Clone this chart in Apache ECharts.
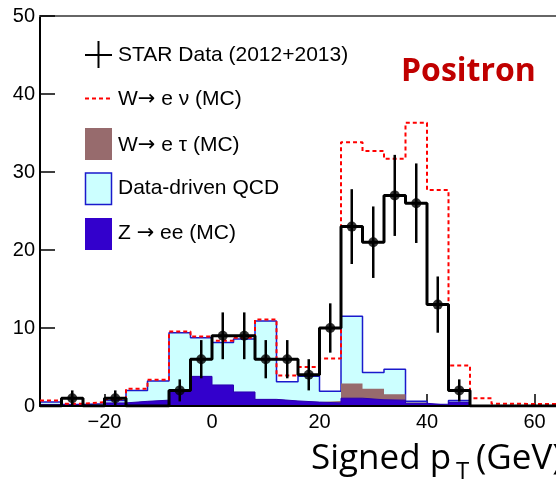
<!DOCTYPE html>
<html>
<head>
<meta charset="utf-8">
<script src="https://cdn.jsdelivr.net/npm/echarts@6/dist/echarts.min.js"></script>
<style>
  html, body { margin: 0; padding: 0; background: #fff; }
  #chart { width: 556px; height: 482px; }
</style>
</head>
<body>
<div id="chart"></div>
<script>
// Signed pT distribution of positron candidates, 4 GeV bins from -32 to 64 GeV
const binLow = [-32, -28, -24, -20, -16, -12, -8, -4, 0, 4, 8, 12, 16, 20, 24, 28, 32, 36, 40, 44, 48, 52, 56, 60];
const binWidth = 4;

// STAR data counts per bin
const dataCounts = [0, 1, 0, 1, 0, 0, 2, 6, 9, 9, 6, 6, 4, 10, 23, 21, 27, 26, 13, 2, 0, 0, 0, 0];

// Stacked components (bottom to top)
const zee  = [0.2, 0.15, 0.1, 0.4, 0.6, 0.75, 2.0, 3.8, 2.7, 1.8, 0.85, 0.65, 0.5, 0.4, 1.0, 0.8, 0.75, 0.35, 0.1, 0.5, 0, 0, 0, 0];
const wtau = [0, 0, 0, 0, 0, 0, 0, 0, 0, 0, 0, 0, 0, 0.25, 1.9, 1.4, 0.75, 0.1, 0.05, 0, 0, 0, 0, 0];
const qcd  = [0.3, 0.05, 0.2, 0.3, 1.4, 2.45, 7.4, 4.95, 5.45, 6.8, 10.05, 2.45, 3.3, 1.25, 8.6, 2.1, 3.2, 0.15, 0.05, 0.2, 0, 0, 0, 0];
const wenu = [0.2, 0.1, 0.2, 0.15, 0.2, 0.15, 0.15, 0.15, 0.2, 0.15, 0.2, 0.8, 1.2, 4.2, 22.3, 28.4, 27.0, 35.7, 27.5, 4.5, 1.0, 0.3, 0.25, 0.25];

// Axis tick labels
const xTicks = [-20, 0, 20, 40, 60];
const yMin = 0, yMax = 50, yStep = 10;

// Cumulative stack tops
function addArr(a, b) { return a.map((v, i) => v + b[i]); }
const zTop = zee.slice();
const tauTop = addArr(zTop, wtau);
const qcdTop = addArr(tauTop, qcd);
const totTop = addArr(qcdTop, wenu);

// Histogram outline points: one point per bin low edge plus closing edge (step: 'end')
function histPoints(vals) {
  const pts = binLow.map((x, i) => [x, vals[i]]);
  pts.push([binLow[binLow.length - 1] + binWidth, vals[vals.length - 1]]);
  return pts;
}

const xMin = binLow[0];
const xMax = binLow[binLow.length - 1] + binWidth;

const pointData = [];
const errData = [];
binLow.forEach((x, i) => {
  const n = dataCounts[i];
  if (n > 0) {
    const c = x + binWidth / 2;
    const e = Math.sqrt(n);
    pointData.push([c, n]);
    errData.push([c, n - e, n + e]);
  }
});

const FONT = 'Liberation Sans, Arial, sans-serif';
const legendRich = {
  a: { fontSize: 21, fontFamily: FONT, fill: '#000' },
  arr: { fontSize: 21, fontFamily: 'DejaVu Sans, sans-serif', fill: '#000' }
};
const legendText = (str, top) => ({
  type: 'text', left: 118, top: top, z: 20,
  style: { text: str, rich: legendRich, fontSize: 21, fontFamily: FONT, fill: '#000' }
});

const chart = echarts.init(document.getElementById('chart'), null, { renderer: 'canvas' });

const stepSeries = (name, vals, fill, lineColor, lineWidth, extra) => Object.assign({
  name: name,
  type: 'line',
  step: 'end',
  xAxisIndex: 0,
  yAxisIndex: 0,
  data: histPoints(vals),
  symbol: 'none',
  silent: true,
  animation: false,
  lineStyle: { color: lineColor, width: lineWidth },
  areaStyle: fill ? { color: fill, opacity: 1 } : undefined
}, extra || {});

const option = {
  animation: false,
  backgroundColor: '#fff',
  grid: { left: 40, top: 16, width: 522, height: 390, containLabel: false },
  xAxis: [
    {
      type: 'value', min: xMin, max: xMax, position: 'bottom', z: 0,
      axisLine: { show: false, onZero: false },
      splitLine: { show: false },
      axisTick: { show: true, inside: true, length: 12, customValues: xTicks,
                  lineStyle: { color: '#000', width: 1.5 } },
      axisLabel: { customValues: xTicks, fontSize: 20, color: '#000', fontFamily: FONT, margin: 6,
                   formatter: v => String(v).replace('-', '\u2212') }
    },
    {
      type: 'value', min: xMin, max: xMax, position: 'bottom', z: 5,
      axisLine: { show: true, onZero: false, lineStyle: { color: '#000', width: 2 } },
      axisTick: { show: false }, axisLabel: { show: false }, splitLine: { show: false }
    },
    {
      type: 'value', min: xMin, max: xMax, position: 'top', z: 5,
      axisLine: { show: true, onZero: false, lineStyle: { color: '#666', width: 2 } },
      axisTick: { show: false }, axisLabel: { show: false }, splitLine: { show: false }
    }
  ],
  yAxis: [{
    type: 'value', min: yMin, max: yMax, interval: yStep, z: 5, position: 'left',
    axisLine: { show: true, onZero: false, lineStyle: { color: '#000', width: 2 } },
    axisTick: { show: true, inside: true, length: 15, lineStyle: { color: '#000', width: 1.5 } },
    axisLabel: { fontSize: 20, color: '#000', fontFamily: FONT, margin: 5 },
    splitLine: { show: false }
  }],
  series: [
    stepSeries('Data-driven QCD', qcdTop, '#ccffff', '#1a1acc', 1.5, { z: 2 }),
    stepSeries('W\u2192 e \u03c4 (MC)', tauTop, '#976b6d', '#976b6d', 0, { z: 3 }),
    stepSeries('Z \u2192 ee (MC)', zTop, '#3300cc', '#2a00b0', 1, { z: 4 }),
    stepSeries('W\u2192 e \u03bd (MC)', totTop, null, '#ff0000', 2, {
      z: 5, lineStyle: { color: '#ff0000', width: 2, type: [4, 3] }
    }),
    stepSeries('STAR Data', dataCounts, null, '#000', 3, { z: 6 }),
    {
      name: 'errors',
      type: 'custom',
      z: 7,
      silent: true,
      animation: false,
      data: errData,
      encode: { x: 0, y: [1, 2] },
      renderItem: function (params, api) {
        const x = api.value(0);
        const p1 = api.coord([x, api.value(1)]);
        const p2 = api.coord([x, api.value(2)]);
        return {
          type: 'line',
          shape: { x1: p1[0], y1: p1[1], x2: p2[0], y2: p2[1] },
          style: { stroke: '#000', lineWidth: 2.5 }
        };
      }
    },
    {
      name: 'points',
      type: 'scatter',
      z: 8,
      silent: true,
      animation: false,
      symbol: 'circle',
      symbolSize: 10,
      itemStyle: { color: '#000' },
      data: pointData
    }
  ],
  graphic: [
    // legend
    { type: 'line', shape: { x1: 85, y1: 55, x2: 112, y2: 55 }, style: { stroke: '#000', lineWidth: 2 }, z: 20 },
    { type: 'line', shape: { x1: 98.5, y1: 41, x2: 98.5, y2: 68 }, style: { stroke: '#000', lineWidth: 2 }, z: 20 },
    legendText('{a|STAR Data (2012+2013)}', 45),

    { type: 'line', shape: { x1: 85, y1: 98.5, x2: 111, y2: 98.5 }, style: { stroke: '#ff0000', lineWidth: 2, lineDash: [4, 3] }, z: 20 },
    legendText('{a|W}{arr|\u2192}{a| e \u03bd (MC)}', 89),

    { type: 'rect', shape: { x: 85, y: 128, width: 27, height: 32 }, style: { fill: '#976b6d' }, z: 20 },
    legendText('{a|W}{arr|\u2192}{a| e \u03c4 (MC)}', 135),

    { type: 'rect', shape: { x: 85.5, y: 173, width: 26, height: 31.5 }, style: { fill: '#ccffff', stroke: '#1a1acc', lineWidth: 1.5 }, z: 20 },
    legendText('{a|Data-driven QCD}', 178),

    { type: 'rect', shape: { x: 85, y: 218, width: 27, height: 32 }, style: { fill: '#3300cc' }, z: 20 },
    legendText('{a|Z }{arr|\u2192}{a| ee (MC)}', 223),

    // charge label
    { type: 'text', left: 401, top: 56, z: 20,
      style: { text: 'Positron', fontSize: 32, fontWeight: 'bold', fontFamily: 'Open Sans, sans-serif', fill: '#c00000' } },

    // axis title with subscript
    { type: 'text', left: 311, top: 442, z: 20,
      style: { text: 'Signed p', fontSize: 35, fontFamily: 'Open Sans, sans-serif', fill: '#000' } },
    { type: 'text', left: 456, top: 460, z: 20,
      style: { text: 'T', fontSize: 24, fontFamily: 'Open Sans, sans-serif', fill: '#000' } },
    { type: 'text', left: 476, top: 442, z: 20,
      style: { text: '(GeV)', fontSize: 35, fontFamily: 'Open Sans, sans-serif', fill: '#000' } }
  ]
};

chart.setOption(option);
</script>
</body>
</html>
